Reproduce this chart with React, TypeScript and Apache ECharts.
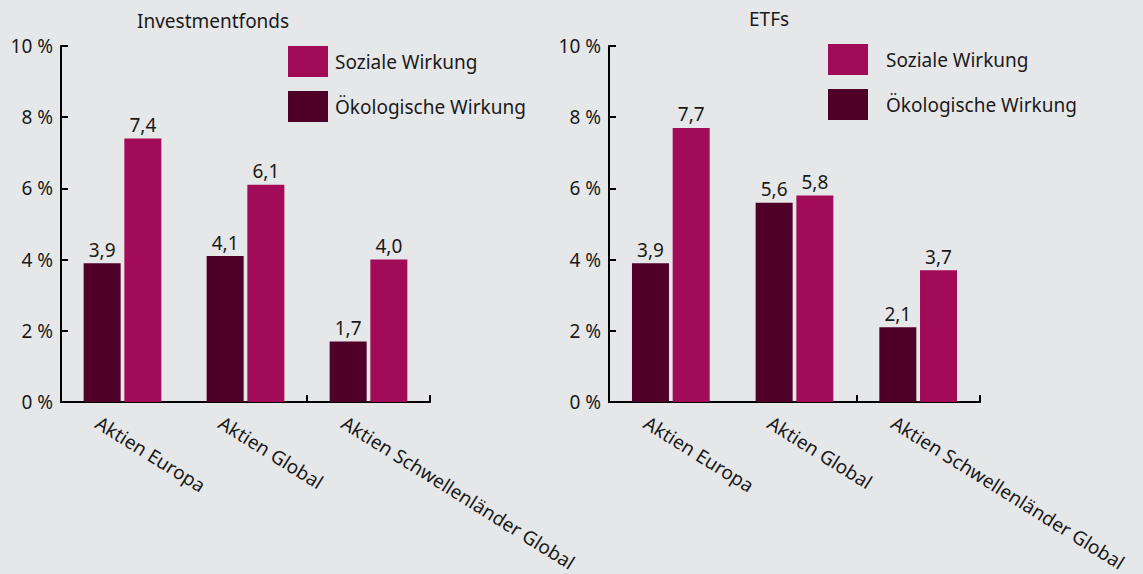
import React, { useEffect, useRef } from "react";
import * as echarts from "echarts";

const categories = ["Aktien Europa", "Aktien Global", "Aktien Schwellenländer Global"];
const fondsOeko = [3.9, 4.1, 1.7];
const fondsSozial = [7.4, 6.1, 4.0];
const etfOeko = [3.9, 5.6, 2.1];
const etfSozial = [7.7, 5.8, 3.7];
const titles = ["Investmentfonds", "ETFs"];
const seriesNames = ["Soziale Wirkung", "Ökologische Wirkung"];

const FONT = "Noto Sans";
const BG = "#e6e7e9";
const SOZ = "#a20b57";
const OEKO = "#4f0029";
const TXT = "#1a1a1a";
const FS = 19;

export default function App() {
  const ref = useRef<HTMLDivElement>(null);
  useEffect(() => {
    document.body.style.margin = "0";
    const chart = echarts.init(ref.current!, null, { renderer: "svg" });
    const grids = [
      { left: 61, top: 46, width: 369, height: 356 },
      { left: 609, top: 46, width: 371, height: 356 },
      { left: 61 - 25, top: 46, width: 369, height: 356 },
      { left: 609 - 25, top: 46, width: 371, height: 356 },
    ];
    const axisLine = { show: true, lineStyle: { color: "#000", width: 2 } };
    const xAxes = [0, 1].map((i) => ({
      type: "category",
      gridIndex: i,
      data: categories,
      axisLine,
      axisTick: { show: true, inside: true, length: 7, lineStyle: { color: "#000", width: 2 } },
      axisLabel: { show: false },
    }));
    const labelAxes = [2, 3].map((i) => ({
      type: "category",
      gridIndex: i,
      data: categories,
      axisLine: { show: false },
      axisTick: { show: false },
      axisLabel: {
        show: true,
        rotate: -32,
        margin: 22,
        interval: 0,
        fontFamily: FONT,
        fontSize: FS,
        color: TXT,
      },
    }));
    const yAxes = [0, 1].map((i) => ({
      type: "value",
      gridIndex: i,
      min: 0,
      max: 10,
      interval: 2,
      axisLine,
      splitLine: { show: false },
      axisTick: { show: true, inside: true, length: 7, lineStyle: { color: "#000", width: 2 } },
      axisLabel: {
        margin: 8,
        fontFamily: FONT,
        fontSize: FS,
        color: TXT,
        formatter: (v: number) => `${v} %`,
      },
    }));
    const hiddenY = [2, 3].map((i) => ({
      type: "value",
      gridIndex: i,
      min: 0,
      max: 10,
      show: false,
    }));
    const label = {
      show: true,
      position: "top",
      distance: 4,
      fontFamily: FONT,
      fontSize: FS,
      color: TXT,
      formatter: (p: any) => String(p.value.toFixed(1)).replace(".", ","),
    };
    const mk = (name: string, data: number[], idx: number, color: string) => ({
      type: "bar",
      name,
      data,
      xAxisIndex: idx,
      yAxisIndex: idx,
      barWidth: 37,
      barGap: "10%",
      itemStyle: { color },
      label,
    });
    const legendBase = {
      orient: "vertical",
      data: [seriesNames[0], seriesNames[1]],
      itemWidth: 40,
      itemHeight: 31,
      itemGap: 14,
      icon: "rect",
      padding: 0,
      selectedMode: false,
    };
    chart.setOption({
      animation: false,
      backgroundColor: BG,
      color: [SOZ, OEKO],
      title: [
        { text: titles[0], left: 137, top: 11, padding: 0, textStyle: { fontFamily: FONT, fontSize: FS, fontWeight: "normal", color: TXT } },
        { text: titles[1], left: 749, top: 9, padding: 0, textStyle: { fontFamily: FONT, fontSize: FS, fontWeight: "normal", color: TXT } },
      ],
      legend: [
        { ...legendBase, left: 288, top: 46, textStyle: { fontFamily: FONT, fontSize: FS, color: TXT, padding: [0, 0, 0, 2] } },
        { ...legendBase, left: 828, top: 44, textStyle: { fontFamily: FONT, fontSize: FS, color: TXT, padding: [0, 0, 0, 13] } },
      ],
      grid: grids,
      xAxis: [...xAxes, ...labelAxes],
      yAxis: [...yAxes, ...hiddenY],
      series: [
        mk(seriesNames[1], fondsOeko, 0, OEKO),
        mk(seriesNames[0], fondsSozial, 0, SOZ),
        mk(seriesNames[1], etfOeko, 1, OEKO),
        mk(seriesNames[0], etfSozial, 1, SOZ),
      ],
    });
    return () => chart.dispose();
  }, []);
  return <div ref={ref} style={{ width: 1143, height: 574 }} />;
}
